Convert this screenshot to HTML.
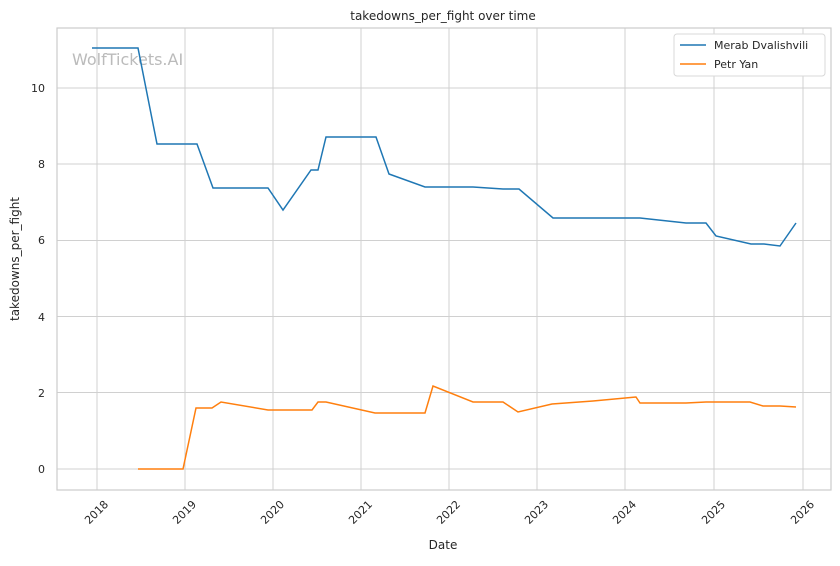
<!DOCTYPE html>
<html><head><style>body{margin:0;background:#fff}svg text{font-family:"DejaVu Sans","Liberation Sans",sans-serif;fill:#262626}</style></head><body>
<svg width="840" height="561" xmlns="http://www.w3.org/2000/svg">
<rect width="840" height="561" fill="#fff"/>
<g stroke="#d0d0d0" stroke-width="1">
<line x1="57" x2="831" y1="469" y2="469"/><line x1="57" x2="831" y1="392.5" y2="392.5"/><line x1="57" x2="831" y1="316.5" y2="316.5"/><line x1="57" x2="831" y1="240.5" y2="240.5"/><line x1="57" x2="831" y1="164" y2="164"/><line x1="57" x2="831" y1="88" y2="88"/>
<line x1="97" x2="97" y1="28" y2="490"/><line x1="185" x2="185" y1="28" y2="490"/><line x1="273" x2="273" y1="28" y2="490"/><line x1="361" x2="361" y1="28" y2="490"/><line x1="449" x2="449" y1="28" y2="490"/><line x1="537" x2="537" y1="28" y2="490"/><line x1="625" x2="625" y1="28" y2="490"/><line x1="714" x2="714" y1="28" y2="490"/><line x1="803" x2="803" y1="28" y2="490"/>
</g>
<rect x="57" y="28" width="774" height="462" fill="none" stroke="#cccccc" stroke-width="1.2"/>
<text x="72" y="65" font-size="16" style="fill:#bbbbbb">WolfTickets.AI</text>
<polyline fill="none" stroke="#1f77b4" stroke-width="1.5" points="92,48 138,48 157,144 197,144 213,188 268,188 283,210 311,170 318,170 326,137 376,137 389,174 425,187 473,187 503,189 519,189 553,218 640,218 686,223 706,223 716,236 751,244 764,244 780,246 796,223"/>
<polyline fill="none" stroke="#ff7f0e" stroke-width="1.5" points="138,469 183,469 196,408 212,408 221,402 268,410 312,410 318,402 326,402 375,413 425,413 433,386 473,402 503,402 518,412 552,404 593,401 636,397 640,403 686,403 706,402 750,402 763,406 780,406 796,407"/>
<g font-size="11" text-anchor="end">
<text x="45" y="473">0</text><text x="45" y="397">2</text><text x="45" y="321">4</text><text x="45" y="244">6</text><text x="45" y="168">8</text><text x="45" y="92">10</text>
</g>
<g font-size="11" text-anchor="end">
<text transform="translate(109,505) rotate(-45)">2018</text><text transform="translate(197,505) rotate(-45)">2019</text><text transform="translate(285,505) rotate(-45)">2020</text><text transform="translate(373,505) rotate(-45)">2021</text><text transform="translate(461,505) rotate(-45)">2022</text><text transform="translate(549,505) rotate(-45)">2023</text><text transform="translate(637,505) rotate(-45)">2024</text><text transform="translate(726,505) rotate(-45)">2025</text><text transform="translate(815,505) rotate(-45)">2026</text>
</g>
<text x="443" y="549" font-size="12" text-anchor="middle">Date</text>
<text transform="translate(19,259) rotate(-90)" font-size="12" text-anchor="middle">takedowns_per_fight</text>
<text x="443" y="20" font-size="12" text-anchor="middle">takedowns_per_fight over time</text>
<rect x="674" y="34" width="151" height="42" rx="3" fill="#fff" stroke="#d8d8d8"/>
<line x1="680" x2="706" y1="45" y2="45" stroke="#1f77b4" stroke-width="1.5"/>
<line x1="680" x2="706" y1="64" y2="64" stroke="#ff7f0e" stroke-width="1.5"/>
<text x="714" y="49" font-size="11">Merab Dvalishvili</text>
<text x="714" y="68" font-size="11">Petr Yan</text>
</svg>
</body></html>
